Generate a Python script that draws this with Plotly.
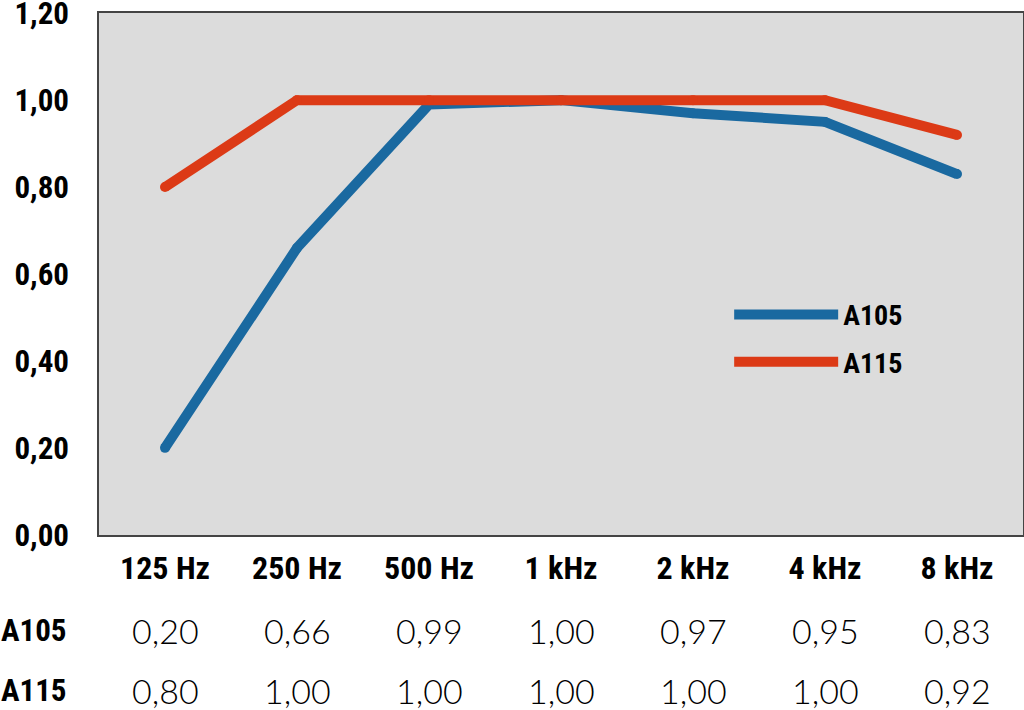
import plotly.graph_objects as go

# frequency bands and absorption values
bands = ['125 Hz', '250 Hz', '500 Hz', '1 kHz', '2 kHz', '4 kHz', '8 kHz']
a105 = [0.20, 0.66, 0.99, 1.00, 0.97, 0.95, 0.83]
a115 = [0.80, 1.00, 1.00, 1.00, 1.00, 1.00, 0.92]
y_ticks = [0, 0.2, 0.4, 0.6, 0.8, 1.0, 1.2]

BLUE = '#1a69a0'
RED = '#dc3a16'
BOLD = 'Liberation Sans Narrow, Roboto Condensed, DejaVu Sans Condensed, sans-serif'
LIGHT = 'Lato, Open Sans, sans-serif'


def fmt(v):
    return f'{v:.2f}'.replace('.', ',')


fig = go.Figure()

for name, vals, color in [('A105', a105, BLUE), ('A115', a115, RED)]:
    fig.add_trace(go.Scatter(
        x=bands, y=vals, name=name, mode='lines', legendgroup=name,
        line={'color': color, 'width': 10},
    ))
    # round caps / joins
    fig.add_trace(go.Scatter(
        x=bands, y=vals, mode='markers', showlegend=False, hoverinfo='skip',
        legendgroup=name,
        marker={'color': color, 'size': 10, 'line': {'width': 0}},
    ))

# table under the chart
rows = [('A105', a105, -0.182), ('A115', a115, -0.297)]
for label, vals, ypos in rows:
    fig.add_annotation(
        text=label, xref='paper', yref='paper', x=-0.108, y=ypos,
        xanchor='left', yanchor='middle', showarrow=False,
        font={'family': BOLD, 'size': 31, 'color': 'black', 'weight': 'bold'},
    )
    for b, v in zip(bands, vals):
        fig.add_annotation(
            text=fmt(v), x=b, xref='x', y=ypos, yref='paper',
            xanchor='center', yanchor='middle', showarrow=False,
            font={'family': LIGHT, 'size': 34, 'color': 'black', 'weight': 300},
        )

fig.update_layout({
    'width': 1024,
    'height': 710,
    'margin': {'l': 99, 'r': 1, 't': 13, 'b': 175},
    'paper_bgcolor': 'white',
    'plot_bgcolor': '#dcdcdc',
    'showlegend': True,
    'legend': {
        'x': 0.682, 'y': 0.377, 'xanchor': 'left', 'yanchor': 'middle',
        'bgcolor': 'rgba(0,0,0,0)',
        'font': {'family': BOLD, 'size': 28, 'color': 'black', 'weight': 'bold'},
        'itemwidth': 104,
        'traceorder': 'grouped',
        'tracegroupgap': 8,
    },
    'xaxis': {
        'range': [-0.5, 6.5],
        'automargin': False,
        'showgrid': False,
        'showline': True, 'linecolor': '#444', 'linewidth': 1.5, 'mirror': True,
        'ticks': '', 'ticklabelstandoff': 4,
        'tickfont': {'family': BOLD, 'size': 32, 'color': 'black', 'weight': 'bold'},
        'zeroline': False,
    },
    'yaxis': {
        'range': [-0.0005, 1.2005],
        'automargin': False,
        'tickvals': y_ticks,
        'ticktext': [fmt(v) for v in y_ticks],
        'ticklabeloverflow': 'allow',
        'showgrid': False,
        'showline': True, 'linecolor': '#444', 'linewidth': 1.5, 'mirror': True,
        'ticks': '', 'ticklabelstandoff': 22,
        'tickfont': {'family': BOLD, 'size': 31, 'color': 'black', 'weight': 'bold'},
        'zeroline': False,
    },
})

# the page's default body margin would shift the figure by 8px
fig.write_html(
    "out.html",
    config={'displayModeBar': False},
    post_script="document.body.style.margin = '0';",
)
